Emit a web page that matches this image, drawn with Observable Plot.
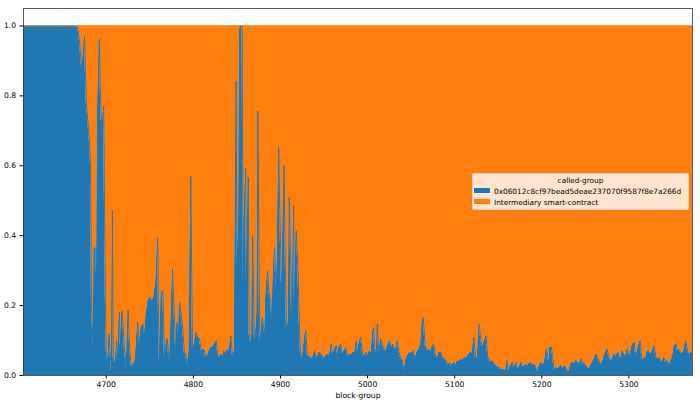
<!DOCTYPE html>
<html>
<head>
<meta charset="utf-8">
<script src="https://cdn.jsdelivr.net/npm/d3@7"></script>
<script src="https://cdn.jsdelivr.net/npm/@observablehq/plot@0.6"></script>
<style>
  body { margin: 0; background: #fff; }
  #chart { position: relative; width: 700px; height: 404px; font-family: "DejaVu Sans", sans-serif; }
  #legend {
    position: absolute; left: 472px; top: 173px; width: 217px; height: 37px;
    box-sizing: border-box; background: rgba(255,255,255,0.8);
    border: 1px solid rgba(204,204,204,0.8); border-radius: 2px;
    font-size: 7.35px; color: #000; font-family: "DejaVu Sans", sans-serif;
  }
  #legend .title { position: absolute; left: 0; right: 0; top: 2px; text-align: center; line-height: 9px; }
  #legend .entry { position: absolute; left: 1px; line-height: 9px; white-space: nowrap; }
  #legend .sw { display: inline-block; width: 16px; height: 5px; vertical-align: middle; margin-right: 4px; position: relative; top: -1px; }
</style>
</head>
<body>
<div id="chart"><div id="legend"></div></div>
<script>
const seriesNames = ["0x06012c8cf97bead5deae237070f9587f8e7a266d", "Intermediary smart-contract"];
const seriesColors = ["#1f77b4", "#ff7f0e"];
const legendTitle = "called-group";
const xLabel = "block-group";
const xTicks = [4700, 4800, 4900, 5000, 5100, 5200, 5300];
const yTicks = [0, 0.2, 0.4, 0.6, 0.8, 1.0];

// block-group values and share of the first called-group (0x06012c...)
const blocks = [
4605,4667,4669,4672,4675,4677,4681,4682,4683,4685,4686,4688,4689,4690,4692,4693,4694,4695,4697,4698,4699,4700,
4702,4703,4705,4706,4707,4708,4710,4712,4713,4715,4716,4718,4719,4721,4723,4725,4727,4729,4731,4733,4734,4736,
4738,4740,4742,4744,4746,4748,4750,4752,4754,4755,4757,4759,4760,4761,4763,4765,4767,4769,4770,4772,4773,4775,
4776,4778,4780,4781,4783,4784,4786,4788,4790,4791,4793,4795,4797,4799,4801,4803,4805,4807,4809,4811,4813,4814,
4816,4818,4820,4822,4824,4826,4828,4830,4832,4834,4835,4837,4839,4841,4843,4845,4847,4849,4850,4852,4853,4854,
4856,4857,4858,4860,4861,4863,4864,4866,4867,4868,4870,4871,4873,4874,4876,4877,4879,4880,4882,4883,4885,4887,
4889,4890,4892,4893,4895,4896,4898,4899,4901,4902,4904,4905,4907,4909,4910,4912,4913,4915,4916,4918,4920,4922,
4923,4925,4926,4928,4929,4931,4933,4935,4937,4939,4941,4943,4944,4946,4948,4950,4952,4954,4956,4958,4960,4962,
4964,4966,4967,4969,4971,4973,4975,4977,4979,4981,4983,4985,4987,4988,4990,4992,4994,4996,4998,5000,5002,5004,
5006,5007,5008,5010,5011,5013,5015,5017,5019,5021,5023,5025,5027,5029,5031,5032,5034,5036,5038,5040,5042,5044,
5046,5048,5050,5052,5053,5055,5057,5059,5061,5063,5064,5066,5067,5069,5071,5073,5074,5076,5078,5080,5082,5084,
5086,5088,5090,5092,5094,5096,5097,5099,5101,5103,5105,5107,5109,5111,5113,5115,5117,5118,5120,5122,5124,5126,
5128,5130,5132,5134,5136,5138,5140,5141,5143,5145,5147,5149,5151,5153,5155,5157,5159,5160,5161,5162,5164,5166,
5168,5170,5172,5174,5176,5178,5180,5182,5183,5185,5187,5189,5191,5193,5195,5197,5199,5201,5203,5205,5206,5208,
5209,5211,5213,5214,5216,5218,5220,5222,5224,5226,5227,5229,5231,5233,5235,5237,5239,5241,5243,5245,5247,5248,
5250,5252,5254,5256,5258,5260,5262,5264,5266,5268,5270,5271,5273,5275,5277,5279,5281,5283,5285,5287,5289,5291,
5292,5294,5296,5298,5300,5302,5304,5306,5308,5310,5312,5313,5315,5317,5319,5321,5323,5325,5327,5329,5331,5333,
5335,5336,5338,5340,5342,5344,5346,5348,5350,5352,5354,5356,5357,5359,5361,5363,5365,5367,5369,5371,5373
];
const share = [
1.0,1.0,0.962,0.871,0.969,0.786,0.657,0.60,0.21,0.081,0.367,0.362,0.271,0.757,0.962,0.833,0.748,0.705,0.771,0.481,0.214,0.071,
0.038,0.119,0.043,0.01,0.473,0.052,0.033,0.1,0.043,0.181,0.081,0.186,0.157,0.071,0.024,0.186,0.071,0.024,0.033,0.043,0.071,0.152,
0.09,0.138,0.148,0.119,0.181,0.214,0.224,0.214,0.219,0.233,0.271,0.395,0.157,0.038,0.238,0.243,0.038,0.1,0.105,0.043,0.062,0.214,
0.305,0.176,0.052,0.152,0.119,0.21,0.176,0.129,0.052,0.062,0.033,0.071,0.569,0.071,0.09,0.124,0.11,0.105,0.071,0.076,0.071,0.052,
0.057,0.071,0.081,0.081,0.09,0.1,0.062,0.052,0.062,0.052,0.071,0.062,0.076,0.067,0.114,0.052,0.071,0.843,0.31,0.452,0.99,1.0,
1.0,0.262,0.443,0.595,0.262,0.567,0.119,0.09,0.119,0.4,0.11,0.1,0.181,0.757,0.138,0.1,0.167,0.148,0.119,0.219,0.3,0.233,
0.214,0.157,0.31,0.367,0.252,0.31,0.652,0.49,0.262,0.31,0.6,0.405,0.119,0.157,0.51,0.29,0.119,0.486,0.214,0.414,0.31,0.119,
0.062,0.043,0.071,0.119,0.129,0.052,0.057,0.048,0.052,0.071,0.052,0.057,0.067,0.062,0.057,0.048,0.057,0.062,0.052,0.09,0.057,0.076,
0.086,0.052,0.081,0.09,0.062,0.071,0.081,0.052,0.062,0.057,0.067,0.062,0.1,0.067,0.09,0.11,0.067,0.052,0.067,0.057,0.071,0.062,
0.129,0.138,0.081,0.062,0.148,0.062,0.105,0.086,0.076,0.067,0.086,0.1,0.081,0.09,0.076,0.071,0.1,0.067,0.048,0.043,0.014,0.048,
0.057,0.067,0.062,0.071,0.062,0.052,0.071,0.076,0.09,0.167,0.162,0.086,0.081,0.071,0.076,0.062,0.086,0.09,0.057,0.048,0.067,0.067,
0.052,0.048,0.043,0.029,0.038,0.024,0.033,0.038,0.029,0.043,0.038,0.048,0.043,0.052,0.048,0.057,0.062,0.067,0.062,0.11,0.048,0.052,
0.148,0.1,0.081,0.1,0.114,0.052,0.043,0.038,0.043,0.033,0.029,0.024,0.024,0.014,0.019,0.014,0.019,0.043,0.019,0.014,0.029,0.038,
0.019,0.038,0.019,0.024,0.038,0.024,0.029,0.033,0.024,0.033,0.038,0.029,0.033,0.024,0.01,0.029,0.038,0.029,0.038,0.076,0.071,0.033,
0.081,0.081,0.043,0.014,0.024,0.019,0.024,0.029,0.019,0.029,0.024,0.014,0.01,0.033,0.038,0.033,0.043,0.038,0.033,0.048,0.029,0.038,
0.029,0.024,0.019,0.029,0.038,0.048,0.062,0.052,0.038,0.029,0.043,0.052,0.067,0.076,0.052,0.043,0.048,0.062,0.052,0.067,0.057,0.048,
0.071,0.062,0.052,0.076,0.057,0.067,0.09,0.095,0.052,0.076,0.095,0.1,0.043,0.052,0.048,0.071,0.067,0.062,0.071,0.086,0.052,0.048,
0.052,0.043,0.038,0.052,0.038,0.043,0.029,0.043,0.052,0.086,0.09,0.067,0.076,0.067,0.062,0.071,0.1,0.076,0.057,0.067,0.062
];

const rows = blocks.flatMap((b, i) => [
  {block: b, group: seriesNames[0], value: share[i]},
  {block: b, group: seriesNames[1], value: 1 - share[i]}
]);

const plot = Plot.plot({
  width: 700,
  height: 404,
  marginLeft: 23,
  marginRight: 8,
  marginTop: 8,
  marginBottom: 29,
  style: {fontFamily: "DejaVu Sans, sans-serif", fontSize: "7.6px", color: "#000", background: "transparent"},
  x: {domain: [blocks[0], blocks[blocks.length - 1]], ticks: xTicks, tickFormat: "d", tickSize: 3.5, tickPadding: 2.5,
      label: xLabel, labelAnchor: "center", labelArrow: "none", labelOffset: 22},
  y: {domain: [0, 1.05], ticks: yTicks, tickFormat: ".1f", tickSize: 3.5, tickPadding: 4, label: null},
  color: {domain: seriesNames, range: seriesColors},
  marks: [
    Plot.areaY(rows, {x: "block", y: "value", fill: "group", z: "group", curve: "linear"}),
    Plot.lineY(rows, Plot.stackY2({x: "block", y: "value", z: "group", stroke: "group", strokeWidth: 0.9})),
    Plot.frame({stroke: "#333", strokeWidth: 0.8})
  ]
});
document.getElementById("chart").prepend(plot);

const legend = document.getElementById("legend");
const t = document.createElement("div");
t.className = "title"; t.textContent = legendTitle; legend.appendChild(t);
seriesNames.forEach((n, i) => {
  const e = document.createElement("div");
  e.className = "entry";
  e.style.top = (13 + i * 11) + "px";
  const s = document.createElement("span");
  s.className = "sw"; s.style.background = seriesColors[i];
  e.appendChild(s);
  e.appendChild(document.createTextNode(n));
  legend.appendChild(e);
});
</script>
</body>
</html>
